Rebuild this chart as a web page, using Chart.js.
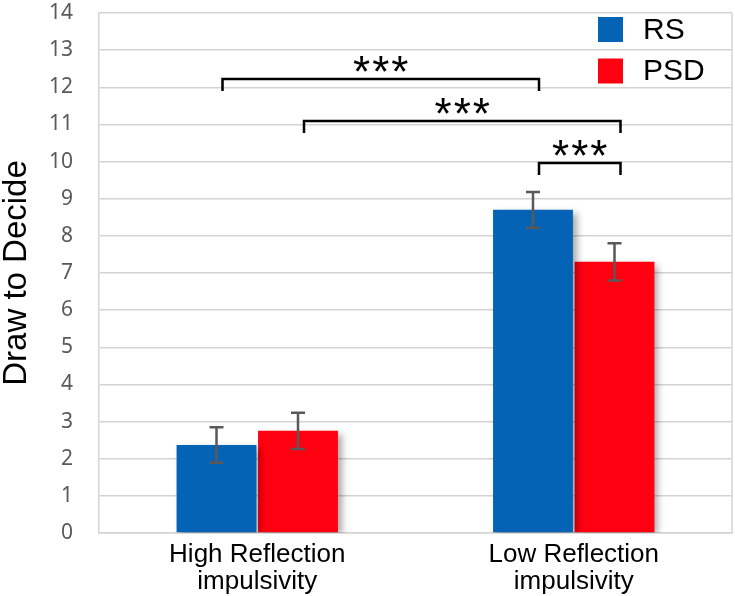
<!DOCTYPE html>
<html>
<head>
<meta charset="utf-8">
<script src="https://cdn.jsdelivr.net/npm/chart.js@4.4.1/dist/chart.umd.min.js"></script>
<style>
  html, body { margin: 0; padding: 0; background: #fff; }
  #wrap { width: 735px; height: 596px; }
</style>
</head>
<body>
<div id="wrap"><canvas id="chart" width="735" height="596"></canvas></div>
<script>
const CATEGORIES = [['High Reflection', 'impulsivity'], ['Low Reflection', 'impulsivity']];
const SERIES = ['RS', 'PSD'];
const RS_VALUES = [2.37, 8.70];
const PSD_VALUES = [2.75, 7.30];
const RS_ERR = [0.48, 0.48];
const PSD_ERR = [0.49, 0.50];
const COLORS = ['#0563b5', '#ff0010'];

// significance brackets: [category, dataset] -> [category, dataset], bracket level
const BRACKETS = [
  { from: [0, 0], to: [1, 0], level: 12.22, label: '***' },
  { from: [0, 1], to: [1, 1], level: 11.09, label: '***' },
  { from: [1, 0], to: [1, 1], level: 9.96, label: '***' }
];

const ERRORS = [RS_ERR, PSD_ERR];

const barShadow = {
  id: 'barShadow',
  beforeDatasetsDraw(chart) {
    const ctx = chart.ctx;
    ctx.save();
    ctx.shadowColor = 'rgba(0,0,0,0.35)';
    ctx.shadowBlur = 7;
    ctx.shadowOffsetX = 4;
    ctx.shadowOffsetY = 3;
  },
  afterDatasetsDraw(chart) {
    chart.ctx.restore();
  }
};

const extras = {
  id: 'extras',
  afterDatasetsDraw(chart) {
    const ctx = chart.ctx;
    const y = chart.scales.y;
    const area = chart.chartArea;

    // frame on the right
    ctx.save();
    ctx.strokeStyle = '#d4d4d4';
    ctx.lineWidth = 1.5;
    ctx.beginPath();
    ctx.moveTo(area.right, area.top);
    ctx.lineTo(area.right, area.bottom);
    ctx.stroke();
    ctx.restore();

    // error bars
    ctx.save();
    ctx.strokeStyle = '#595959';
    ctx.lineWidth = 2.5;
    chart.data.datasets.forEach((ds, di) => {
      const meta = chart.getDatasetMeta(di);
      meta.data.forEach((bar, i) => {
        const v = ds.data[i], e = ERRORS[di][i];
        const top = y.getPixelForValue(v + e);
        const bot = y.getPixelForValue(v - e);
        ctx.beginPath();
        ctx.moveTo(bar.x, top); ctx.lineTo(bar.x, bot);
        ctx.moveTo(bar.x - 7, top); ctx.lineTo(bar.x + 7, top);
        ctx.moveTo(bar.x - 7, bot); ctx.lineTo(bar.x + 7, bot);
        ctx.stroke();
      });
    });
    ctx.restore();

    // brackets
    ctx.save();
    ctx.strokeStyle = '#000';
    ctx.lineWidth = 2.5;
    ctx.fillStyle = '#000';
    ctx.font = '44px "Liberation Sans", Arial, sans-serif';
    ctx.letterSpacing = '2px';
    ctx.textAlign = 'center';
    ctx.textBaseline = 'alphabetic';
    BRACKETS.forEach(b => {
      const x1 = chart.getDatasetMeta(b.from[1]).data[b.from[0]].x + 6;
      const x2 = chart.getDatasetMeta(b.to[1]).data[b.to[0]].x + 6;
      const yl = y.getPixelForValue(b.level);
      const yt = y.getPixelForValue(b.level - 0.32);
      ctx.beginPath();
      ctx.moveTo(x1, yt);
      ctx.lineTo(x1, yl);
      ctx.lineTo(x2, yl);
      ctx.lineTo(x2, yt);
      ctx.stroke();
      ctx.fillText(b.label, (x1 + x2) / 2 + 1, yl + 8);
    });
    ctx.restore();

    // legend inside plot, top right
    ctx.save();
    ctx.font = '30px "Liberation Sans", Arial, sans-serif';
    ctx.textBaseline = 'middle';
    ctx.textAlign = 'left';
    chart.data.datasets.forEach((ds, di) => {
      const by = 17 + di * 41.5;
      ctx.fillStyle = ds.backgroundColor;
      ctx.fillRect(598, by, 25, 25);
      ctx.fillStyle = '#000';
      ctx.fillText(ds.label, 643, by + 13.5);
    });
    ctx.restore();
  }
};

new Chart(document.getElementById('chart'), {
  type: 'bar',
  data: {
    labels: CATEGORIES,
    datasets: [
      { label: SERIES[0], data: RS_VALUES, backgroundColor: COLORS[0] },
      { label: SERIES[1], data: PSD_VALUES, backgroundColor: COLORS[1] }
    ]
  },
  options: {
    responsive: false,
    animation: false,
    layout: { padding: { top: 13, right: 3, left: 0, bottom: 0 } },
    datasets: {
      bar: { categoryPercentage: 0.515, barPercentage: 0.98 }
    },
    plugins: {
      legend: { display: false },
      tooltip: { enabled: false }
    },
    scales: {
      x: {
        grid: { display: false },
        border: { display: true, color: '#d4d4d4', width: 1.5 },
        ticks: {
          color: '#000',
          padding: 0,
          font: { family: '"Liberation Sans", Arial, sans-serif', size: 26, lineHeight: 1.05 }
        },
        afterFit(scale) {
          scale.height = 63;
          scale.paddingLeft = 0;
          scale.paddingRight = 0;
        }
      },
      y: {
        min: 0,
        max: 14,
        grid: { color: '#d4d4d4', lineWidth: 1.5, drawTicks: false },
        border: { display: true, color: '#d4d4d4', width: 1.5 },
        ticks: {
          stepSize: 1,
          color: '#595959',
          padding: 26,
          font: { family: '"Noto Sans", sans-serif', size: 21 }
        },
        title: {
          display: true,
          text: 'Draw to Decide',
          color: '#000',
          padding: 0,
          font: { family: '"Liberation Sans", Arial, sans-serif', size: 33, lineHeight: 1 }
        },
        afterFit(scale) {
          scale.width = 99;
          scale.paddingTop = 0;
          scale.paddingBottom = 0;
        }
      }
    }
  },
  plugins: [barShadow, extras]
});
</script>
</body>
</html>
